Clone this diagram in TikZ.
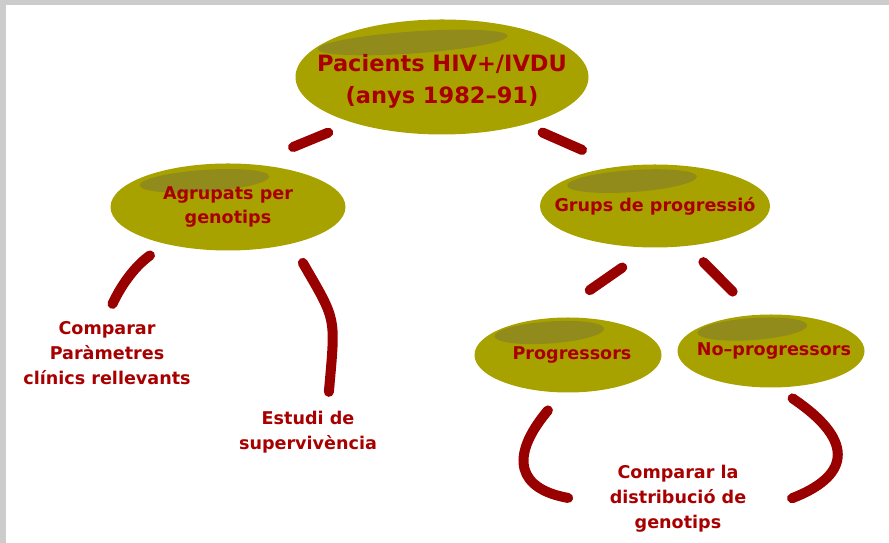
\documentclass[tikz,border=0pt]{standalone}
\usepackage{fontspec}
\setmainfont{DejaVu Sans}
\usetikzlibrary{shapes.geometric,calc}
\definecolor{olivefill}{HTML}{A8A200}
\definecolor{inkred}{HTML}{A80000}
\definecolor{linkred}{HTML}{990000}
\tikzset{
  blob/.style={ellipse, fill=olivefill, inner sep=0pt,
    path picture={\fill[gray!70!black, opacity=.3] ($(path picture bounding box.north west)!0.4!(path picture bounding box.east)$) ellipse[x radius=#1, y radius=0.22cm, rotate=4];}},
  blob/.default=1.3cm,
  tag/.style={text=inkred, font=\bfseries\fontsize{10}{14.2}\selectfont, align=center},
  bigtag/.style={tag, font=\bfseries\fontsize{12.8}{18.2}\selectfont},
  link/.style={draw=linkred, line width=5.7pt, line cap=round}
}
\begin{document}
\begin{tikzpicture}
\useasboundingbox (0,0) rectangle (17.78,10.86);
\fill[gray!40] (0,10.76) rectangle (17.78,10.86);
\fill[gray!40] (0,0) rectangle (0.12,10.86);

\node[blob=1.9cm, minimum width=5.86cm, minimum height=2.3cm, label={[bigtag, yshift=-0.08cm]center:Pacients HIV+/IVDU\\(anys 1982--91)}] (hiv) at (8.84,9.32) {};
\node[blob, minimum width=4.7cm, minimum height=1.74cm, label={[tag]center:Agrupats per\\genotips}] (grp) at (4.56,6.72) {};
\node[blob, minimum width=4.6cm, minimum height=1.66cm, label={[tag]center:Grups de progressió}] (prg) at (13.1,6.74) {};
\node[blob=1.1cm, minimum width=3.74cm, minimum height=1.5cm, label={[tag, xshift=0.08cm]center:Progressors}] (prog) at (11.36,3.76) {};
\node[blob=1.1cm, minimum width=3.74cm, minimum height=1.46cm, label={[tag, xshift=0.06cm]center:No--progressors}] (noprog) at (15.42,3.84) {};

\node[tag] (cmpparam) at (2.14,3.79) {Comparar\\Paràmetres\\clínics rellevants};
\node[tag] (surv) at (6.16,2.22) {Estudi de\\supervivència};
\node[tag] (cmpdist) at (13.56,0.88) {Comparar la\\distribució de\\genotips};

\draw[link, shorten <=0.52cm, shorten >=0.89cm] (hiv.207) -- (grp.61);
\draw[link, shorten <=0.39cm, shorten >=0.81cm] (hiv.330) -- (prg.132);
\draw[link, shorten <=0.39cm, shorten >=0.26cm] (grp.211) to[out=215, in=65] (cmpparam.north);
\draw[link, shorten <=0.44cm, shorten >=0.26cm] (grp.330) to[out=300, in=85, looseness=1.4] (surv.54);
\draw[link, shorten <=0.69cm, shorten >=0.97cm] (prg.264) -- (prog.116);
\draw[link, shorten <=0.45cm, shorten >=0.65cm] (prg.309) -- (noprog.113);
\draw[link, shorten <=0.46cm, shorten >=0.72cm] (prog.262) to[out=230, in=170, looseness=1.85] (cmpdist.184);
\draw[link, shorten <=0.38cm, shorten >=0.85cm] (noprog.279) to[out=326, in=21, looseness=2] (cmpdist.349);
\end{tikzpicture}
\end{document}
